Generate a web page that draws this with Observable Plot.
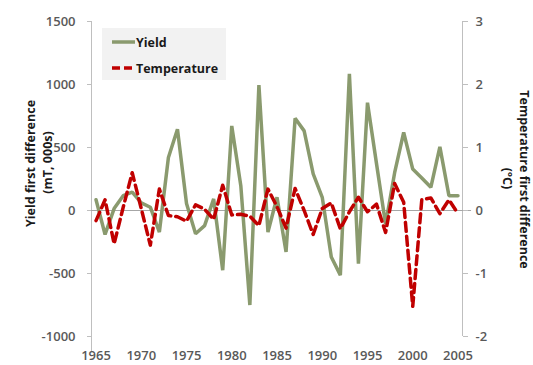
<!DOCTYPE html>
<html>
<head>
<meta charset="utf-8">
<script src="https://cdn.jsdelivr.net/npm/d3@7"></script>
<script src="https://cdn.jsdelivr.net/npm/@observablehq/plot@0.6"></script>
<style>
  body { margin: 0; background: #fff; font-family: "Open Sans", sans-serif; }
  #chart { position: relative; width: 533px; height: 365px; }
  .legend { position: absolute; left: 102px; top: 28px; width: 124px; height: 52px; background: #f2f2f2; }
  .legend .item { position: absolute; left: 10px; height: 16px; display: flex; align-items: center;
                  font-size: 12.5px; font-weight: 700; color: #1a1a1a; white-space: nowrap; }
  .legend svg { margin-right: 1px; }
  .title { position: absolute; font-size: 12.5px; font-weight: 700; color: #1a1a1a; white-space: nowrap;
           transform-origin: center; }
</style>
</head>
<body>
<div id="chart"></div>
<script>
// Year-on-year first differences, 1965–2005
const years = [1965, 1966, 1967, 1968, 1969, 1970, 1971, 1972, 1973, 1974,
               1975, 1976, 1977, 1978, 1979, 1980, 1981, 1982, 1983, 1984,
               1985, 1986, 1987, 1988, 1989, 1990, 1991, 1992, 1993, 1994,
               1995, 1996, 1997, 1998, 1999, 2000, 2001, 2002, 2003, 2004, 2005];

// Yield first difference (mT, 000s)
const yieldDiff = [85, -190, 15, 118, 145, 60, 26, -171, 421, 645,
                   55, -184, -120, 92, -474, 671, 197, -750, 995, -171,
                   105, -329, 732, 632, 290, 105, -369, -513, 1085, -421,
                   856, 370, -110, 300, 619, 329, 258, 184, 505, 118, 118];

// Temperature first difference (ºC)
const tempDiff = [-0.16, 0.17, -0.53, 0.05, 0.6, 0.03, -0.55, 0.34, -0.08, -0.1,
                  -0.17, 0.09, 0.02, -0.14, 0.4, -0.07, -0.06, -0.09, -0.24, 0.34,
                  0.06, -0.28, 0.35, 0.0, -0.38, 0.03, 0.12, -0.29, -0.02, 0.21,
                  -0.02, 0.1, -0.35, 0.43, 0.13, -1.52, 0.17, 0.2, -0.05, 0.17, -0.05];

const yieldTicks = [-1000, -500, 0, 500, 1000, 1500];
const tempTicks = [-2, -1, 0, 1, 2, 3];
const yearTicks = [1965, 1970, 1975, 1980, 1985, 1990, 1995, 2000, 2005];

// 1 ºC on the right axis lines up with 500 on the left axis
const tempScale = 500;

const yieldRows = years.map((year, i) => ({year, value: yieldDiff[i]}));
const tempRows = years.map((year, i) => ({year, value: tempDiff[i] * tempScale}));

const axisColor = "#bfbfbf";
const textColor = "#595959";

const chart = Plot.plot({
  width: 533,
  height: 365,
  marginLeft: 91,
  marginRight: 71,
  marginTop: 21,
  marginBottom: 29,
  x: {domain: [1964.5, 2005.5]},
  y: {domain: [-1000, 1500]},
  style: {fontFamily: "Open Sans, sans-serif", fontSize: "13px", fontWeight: 600, background: "white", overflow: "visible"},
  marks: [
    // axis lines
    Plot.ruleX([1964.5], {y1: -1125, y2: 1500, stroke: axisColor}),
    Plot.ruleX([2005.5], {y1: -1000, y2: 1500, stroke: axisColor}),
    Plot.ruleY([0], {x1: 1964.5, x2: 2006.5, stroke: "#a6a6a6"}),
    Plot.axisY({ticks: yieldTicks, tickSize: 4, tickPadding: 12, tickFormat: d => String(d),
                stroke: axisColor, fill: textColor, label: null}),
    Plot.axisY({anchor: "right", ticks: tempTicks.map(t => t * tempScale), tickSize: 5, tickPadding: 8,
                tickFormat: d => String(d / tempScale), stroke: axisColor, fill: textColor, label: null}),
    Plot.axisX({ticks: yearTicks, tickSize: 0, tickPadding: 14, tickFormat: d => String(d),
                fill: textColor, label: null}),
    // series (temperature, on the secondary axis, drawn on top)
    Plot.line(yieldRows, {x: "year", y: "value", stroke: "#8a9a6e", strokeWidth: 3.5,
                          strokeLinejoin: "miter"}),
    Plot.line(tempRows, {x: "year", y: "value", stroke: "#c00000", strokeWidth: 3.5,
                         strokeDasharray: "9,5", strokeLinejoin: "round"})
  ]
});

const root = document.getElementById("chart");
root.appendChild(chart);

// legend
const legend = document.createElement("div");
legend.className = "legend";
legend.innerHTML = `
  <div class="item" style="top:6px"><svg width="23" height="6"><line x1="0" y1="3" x2="23" y2="3" stroke="#8a9a6e" stroke-width="3.5"/></svg>Yield</div>
  <div class="item" style="top:32px"><svg width="23" height="6"><line x1="0" y1="3" x2="23" y2="3" stroke="#c00000" stroke-width="3.5" stroke-dasharray="8,4"/></svg>Temperature</div>`;
root.appendChild(legend);

// axis titles
function addTitle(text, cx, cy, angle) {
  const el = document.createElement("div");
  el.className = "title";
  el.textContent = text;
  root.appendChild(el);
  const w = el.offsetWidth, h = el.offsetHeight;
  el.style.left = (cx - w / 2) + "px";
  el.style.top = (cy - h / 2) + "px";
  el.style.transform = `rotate(${angle}deg)`;
}
addTitle("Yield first difference", 30, 163, -90);
addTitle("(mT, 000s)", 47, 162, -90);
addTitle("Temperature first difference", 524, 179, 90);
addTitle("(ºC)", 507, 178, 90);
</script>
</body>
</html>
